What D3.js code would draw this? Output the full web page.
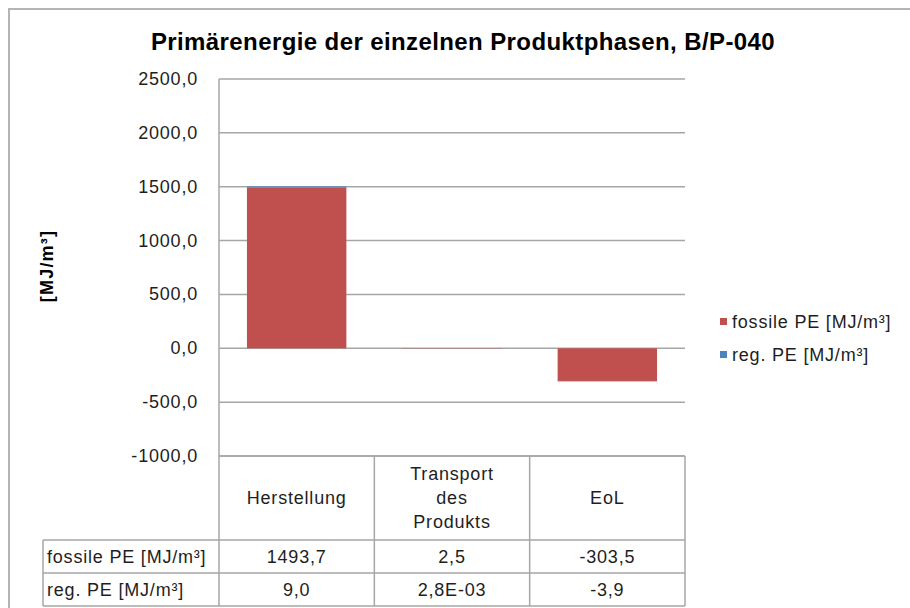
<!DOCTYPE html>
<html>
<head>
<meta charset="utf-8">
<script src="https://cdn.jsdelivr.net/npm/d3@7"></script>
<style>
  body { margin: 0; background: #fff; }
  text { font-family: "Liberation Sans", Arial, sans-serif; fill: #1e1e1e; }
  .lbl { font-size: 18px; letter-spacing: 0.8px; }
</style>
</head>
<body>
<div id="chart"></div>
<script>
// Data
const phases = ["Herstellung", "Transport des Produkts", "EoL"];
const phaseLines = [["Herstellung"], ["Transport", "des", "Produkts"], ["EoL"]];
const fossilPE = [1493.7, 2.5, -303.5];
const regPE = [9.0, 0.0028, -3.9];
const fossilLabels = ["1493,7", "2,5", "-303,5"];
const regLabels = ["9,0", "2,8E-03", "-3,9"];
const seriesNames = ["fossile PE [MJ/m³]", "reg. PE [MJ/m³]"];
const yTicks = [-1000, -500, 0, 500, 1000, 1500, 2000, 2500];

const width = 910, height = 608;
const plot = { left: 219, right: 685, top: 79, bottom: 456 };
const table = { left: 43, head: 540, row: 33 };
const colors = ["#c0504d", "#4f81bd"];
const gridColor = "#a6a6a6";

const svg = d3.select("#chart").append("svg")
  .attr("width", width)
  .attr("height", height);

// Outer frame
svg.append("rect")
  .attr("x", 9).attr("y", 9)
  .attr("width", width).attr("height", height)
  .attr("fill", "none")
  .attr("stroke", "#b4b4b4")
  .attr("stroke-width", 2);

// Title
svg.append("text")
  .attr("x", 463).attr("y", 50)
  .attr("text-anchor", "middle")
  .style("font-size", "24px")
  .style("letter-spacing", "0.4px")
  .style("font-weight", "bold")
  .style("fill", "#000")
  .text("Primärenergie der einzelnen Produktphasen, B/P-040");

// Scales
const y = d3.scaleLinear()
  .domain([-1000, 2500])
  .range([plot.bottom, plot.top]);

const x = d3.scaleBand()
  .domain(phases)
  .range([plot.left, plot.right])
  .paddingInner(0)
  .paddingOuter(0);

const xBar = d3.scaleBand()
  .domain(["bar"])
  .range([0, x.bandwidth()])
  .paddingInner(0.36)
  .paddingOuter(0.18);

// Gridlines
svg.append("g")
  .selectAll("line")
  .data(yTicks)
  .join("line")
  .attr("x1", plot.left).attr("x2", plot.right)
  .attr("y1", d => y(d)).attr("y2", d => y(d))
  .attr("stroke", gridColor)
  .attr("stroke-width", 1.5);

// Y axis labels
const fmt = d => d3.format(".1f")(d).replace(".", ",").replace("−", "-");
svg.append("g")
  .selectAll("text")
  .data(yTicks)
  .join("text")
  .attr("class", "lbl")
  .attr("x", 198)
  .attr("y", d => y(d) + 6)
  .attr("text-anchor", "end")
  .text(fmt);

// Y axis title
svg.append("text")
  .attr("transform", "translate(53,266) rotate(-90)")
  .attr("text-anchor", "middle")
  .style("font-size", "18px")
  .style("letter-spacing", "1.2px")
  .style("font-weight", "bold")
  .style("fill", "#000")
  .text("[MJ/m³]");

// Stacked bars
const rows = phases.map((p, i) => ({ phase: p, fossil: fossilPE[i], reg: regPE[i] }));
const stack = d3.stack()
  .keys(["fossil", "reg"])
  .offset(d3.stackOffsetDiverging);
const stacked = stack(rows);

svg.append("g")
  .selectAll("g")
  .data(stacked)
  .join("g")
  .attr("fill", (d, i) => colors[i])
  .selectAll("rect")
  .data(d => d)
  .join("rect")
  .attr("x", d => x(d.data.phase) + xBar("bar"))
  .attr("width", xBar.bandwidth())
  .attr("y", d => y(Math.max(d[0], d[1])))
  .attr("height", d => Math.abs(y(d[0]) - y(d[1])));

// Axis line (left of plot, running into the table)
svg.append("line")
  .attr("x1", plot.left).attr("x2", plot.left)
  .attr("y1", plot.top).attr("y2", table.head + 2 * table.row)
  .attr("stroke", gridColor)
  .attr("stroke-width", 1.5);

// Data table
const tg = svg.append("g");
const tableBottom = table.head + 2 * table.row;

// horizontal lines
[plot.bottom, table.head, table.head + table.row, tableBottom].forEach((yy, i) => {
  tg.append("line")
    .attr("x1", i === 0 ? plot.left : table.left).attr("x2", plot.right)
    .attr("y1", yy).attr("y2", yy)
    .attr("stroke", gridColor).attr("stroke-width", 1.5);
});
// vertical lines
phases.forEach(p => {
  tg.append("line")
    .attr("x1", x(p) + x.bandwidth()).attr("x2", x(p) + x.bandwidth())
    .attr("y1", plot.bottom).attr("y2", tableBottom)
    .attr("stroke", gridColor).attr("stroke-width", 1.5);
});
tg.append("line")
  .attr("x1", table.left).attr("x2", table.left)
  .attr("y1", table.head).attr("y2", tableBottom)
  .attr("stroke", gridColor).attr("stroke-width", 1.5);

// category headers
phases.forEach((p, i) => {
  const lines = phaseLines[i];
  const cy = 504;
  lines.forEach((t, j) => {
    tg.append("text")
      .attr("class", "lbl")
      .attr("x", x(p) + x.bandwidth() / 2)
      .attr("y", cy + (j - (lines.length - 1) / 2) * 24)
      .attr("text-anchor", "middle")
      .text(t);
  });
});

// row labels and values
[fossilLabels, regLabels].forEach((labels, r) => {
  const yy = table.head + r * table.row + table.row / 2 + 6;
  tg.append("text")
    .attr("class", "lbl")
    .attr("x", table.left + 4)
    .attr("y", yy)
    .text(seriesNames[r]);
  labels.forEach((v, i) => {
    tg.append("text")
      .attr("class", "lbl")
      .attr("x", x(phases[i]) + x.bandwidth() / 2)
      .attr("y", yy)
      .attr("text-anchor", "middle")
      .text(v);
  });
});

// Legend
const legend = svg.append("g").attr("transform", "translate(720,318)");
seriesNames.forEach((name, i) => {
  legend.append("rect")
    .attr("x", 0).attr("y", i * 33)
    .attr("width", 7).attr("height", 7)
    .attr("fill", colors[i]);
  legend.append("text")
    .attr("class", "lbl")
    .attr("x", 12).attr("y", i * 33 + 10)
    .text(name);
});
</script>
</body>
</html>
